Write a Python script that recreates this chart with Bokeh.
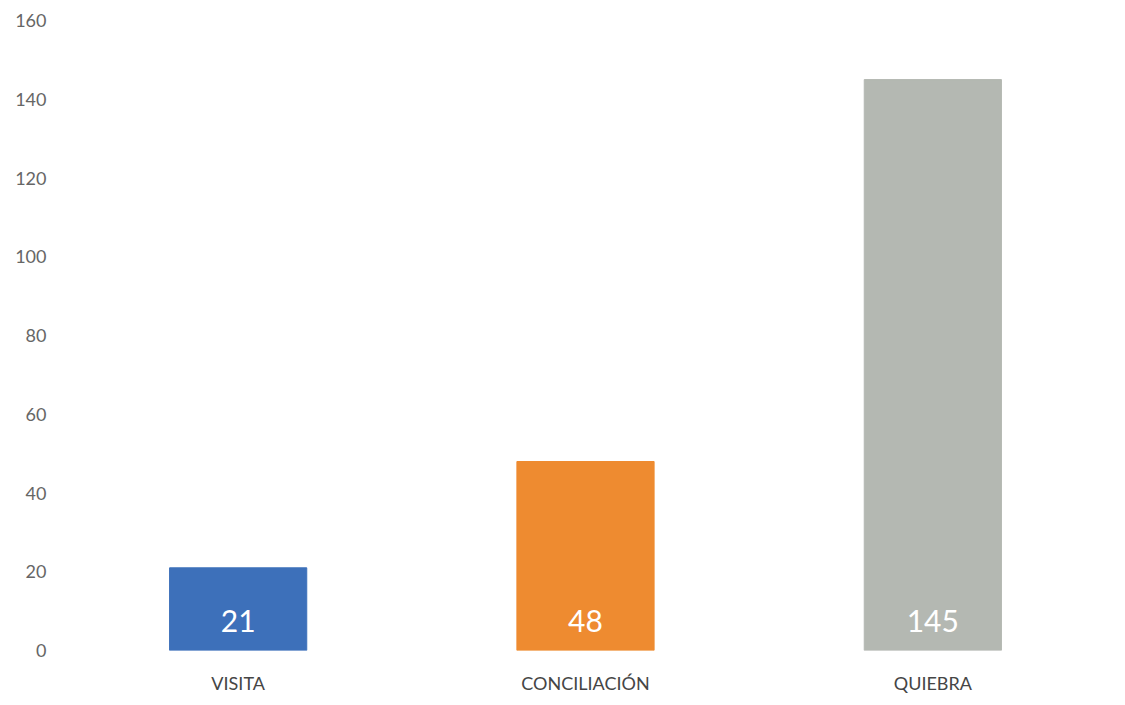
from bokeh.plotting import figure
from bokeh.models import ColumnDataSource, Range1d, LabelSet, FixedTicker
from bokeh.core.properties import value
from bokeh.embed import file_html
from bokeh.resources import INLINE

categories = ["VISITA", "CONCILIACIÓN", "QUIEBRA"]
values = [21, 48, 145]
colors = ["#3D70BA", "#EE8B30", "#B4B8B2"]
y_ticks = [0, 20, 40, 60, 80, 100, 120, 140, 160]

src = ColumnDataSource(dict(cat=categories, val=values, color=colors,
                            lbl=[str(v) for v in values]))

p = figure(x_range=categories, y_range=Range1d(0, 160), width=1120, height=700,
           output_backend="svg", toolbar_location=None,
           min_border_left=64, min_border_top=20, min_border_right=14, min_border_bottom=50)

p.vbar(x="cat", top="val", width=0.395, color="color", source=src)

labels = LabelSet(x="cat", y=0, text="lbl", source=src, text_align="center",
                  text_baseline="alphabetic", y_offset=19, text_color="white",
                  text_font=value("Lato"), text_font_size="30px")
p.add_layout(labels)

p.xgrid.grid_line_color = None
p.ygrid.grid_line_color = None
p.outline_line_color = None

for ax in (p.xaxis, p.yaxis):
    ax.axis_line_color = None
    ax.major_tick_line_color = None
    ax.minor_tick_line_color = None
    ax.major_label_text_font = "Lato"
    ax.major_label_text_font_size = "18px"

p.yaxis.major_label_text_color = "#666666"
p.xaxis.major_label_text_color = "#454545"
p.yaxis.ticker = FixedTicker(ticks=y_ticks)
p.yaxis.major_label_standoff = 12
p.xaxis.major_label_standoff = 15

open("out.html", "w").write(file_html(p, INLINE))
